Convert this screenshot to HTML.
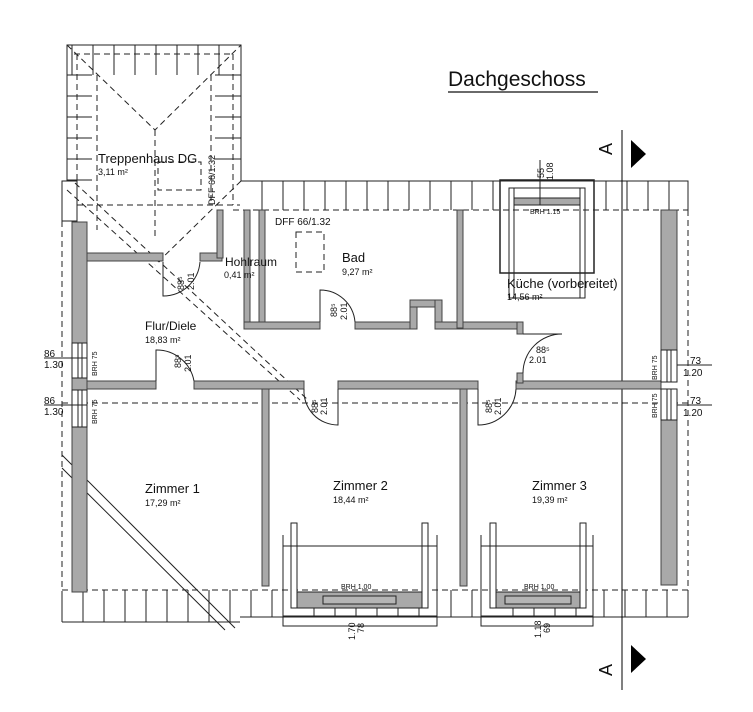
<!DOCTYPE html>
<html><head><meta charset="utf-8"><style>
html,body{margin:0;padding:0;background:#fff}
svg{display:block}
text{font-family:"Liberation Sans",sans-serif;fill:#111}
</style></head><body>
<svg width="753" height="712" viewBox="0 0 753 712" xmlns="http://www.w3.org/2000/svg">
<g stroke="#222" stroke-width="1" fill="none">
<!-- stair tower -->
<polyline points="67,181 67,45 241,45 241,181"/>
<path d="M72,75 V45 M93,75 V45 M114,75 V45 M135,75 V45 M156,75 V45 M177,75 V45 M198,75 V45 M219,75 V45"/>
<path d="M67,75 H92 M67,96 H92 M67,117 H92 M67,138 H92 M67,159 H92 M67,180 H92 M215,75 H241 M215,96 H241 M215,117 H241 M215,138 H241 M215,159 H241"/>
<g stroke-dasharray="6,4">
<path d="M74,54 H233 M77,54 V205 M233,54 V205 M97,75 V230 M211,75 V205 M77,205 H240"/>
<path d="M67,45 L155,130 L241,45 M155,130 V240 M241,181 L155,265"/>
<rect x="158" y="162" width="43" height="28"/>
<path d="M67,190 L300,400 M75,183 L308,400"/>
</g>
<rect x="62" y="181" width="15" height="40"/>
<!-- roof band top -->
<path d="M241,181 H688 V210"/>
<path d="M262,181V210 M283,181V210 M304,181V210 M325,181V210 M346,181V210 M367,181V210 M388,181V210 M409,181V210 M430,181V210 M451,181V210 M472,181V210 M493,181V210 M606,181V210 M627,181V210 M648,181V210 M669,181V210"/>
<g stroke-dasharray="6,4">
<path d="M233,210 H688 M62,221 V592 M688,210 V592 M62,590 H688 M62,403 H688"/>
<rect x="296" y="232" width="28" height="40"/>
</g>
<!-- bottom roof band -->
<path d="M62,622 H240 M240,617 H688 M62,592 V622"/>
<path d="M83,590V622 M104,590V622 M125,590V622 M146,590V622 M167,590V622 M188,590V622 M209,590V622 M230,590V622 M251,590V617 M272,590V617 M451,590V617 M472,590V617 M604,590V617 M625,590V617 M646,590V617 M667,590V617 M688,590V617"/>
<path d="M314,608V617 M335,608V617 M356,608V617 M377,608V617 M398,608V617 M419,608V617 M513,608V617 M534,608V617 M555,608V617 M576,608V617"/>
<path d="M62,455 L235,628 M62,468 L225,630"/>
<!-- section line -->
<path d="M622,130 V690" stroke="#000"/>
</g>
<!-- walls -->
<g fill="#a9a9a9" stroke="#444" stroke-width="1">
<rect x="72" y="222" width="15" height="121"/>
<rect x="72" y="427" width="15" height="165"/>
<rect x="661" y="210" width="16" height="140"/>
<rect x="661" y="420" width="16" height="165"/>
<rect x="87" y="381" width="69" height="8"/>
<rect x="72" y="378" width="15" height="12"/>
<rect x="194" y="381" width="110" height="8"/>
<rect x="338" y="381" width="140" height="8"/>
<rect x="516" y="381" width="145" height="8"/>
<rect x="262" y="389" width="7" height="197"/>
<rect x="460" y="389" width="7" height="197"/>
<rect x="87" y="253" width="76" height="8"/>
<rect x="200" y="253" width="22" height="8"/>
<rect x="217" y="210" width="6" height="48"/>
<rect x="244" y="210" width="6" height="118"/>
<rect x="259" y="210" width="6" height="113"/>
<rect x="244" y="322" width="76" height="7"/>
<rect x="355" y="322" width="58" height="7"/>
<rect x="410" y="300" width="7" height="29"/>
<rect x="410" y="300" width="32" height="7"/>
<rect x="435" y="300" width="7" height="29"/>
<rect x="435" y="322" width="88" height="7"/>
<rect x="457" y="210" width="6" height="118"/>
<rect x="517" y="322" width="6" height="12"/>
<rect x="517" y="373" width="6" height="10"/>
</g>
<!-- windows side -->
<g stroke="#222" fill="#fff">
<rect x="72" y="343" width="15" height="35"/><path d="M78,343V378 M82,343V378" />
<rect x="72" y="390" width="15" height="37"/><path d="M78,390V427 M82,390V427"/>
<rect x="661" y="350" width="16" height="32"/><path d="M667,350V382 M671,350V382"/>
<rect x="661" y="389" width="16" height="31"/><path d="M667,389V420 M671,389V420"/>
<path d="M44,358H87 M44,405H87 M677,365H712 M677,405H712" fill="none"/>
</g>
<!-- doors -->
<g stroke="#222" fill="none">
<path d="M163,262 V296 A37,37 0 0 0 200,262"/>
<path d="M320,322 V290 A35,35 0 0 1 355,322"/>
<path d="M523,334 H562 A39,39 0 0 0 523,373"/>
<path d="M156,381 V350 A38,38 0 0 1 194,381"/>
<path d="M338,389 V425 A34,34 0 0 1 304,389"/>
<path d="M478,389 V425 A38,38 0 0 0 516,389" />
</g>
<!-- kitchen window -->
<g stroke="#222" fill="none">
<rect x="500" y="180" width="94" height="93" stroke-width="1.5"/>
<rect x="509" y="188" width="76" height="110"/>
<path d="M514,188V298 M580,188V298"/>
<rect x="514" y="198" width="66" height="7" fill="#a9a9a9"/>
<path d="M540,160 V205"/>
</g>
<!-- dormers -->
<g stroke="#222" fill="none">
<rect x="291" y="523" width="6" height="85" fill="#fff"/>
<rect x="422" y="523" width="6" height="85" fill="#fff"/>
<path d="M283,535 V626 H437 V535 M283,546 H437 M283,616 H437"/>
<rect x="297" y="592" width="125" height="16" fill="#a9a9a9"/>
<rect x="323" y="596" width="73" height="8" fill="#b5b5b5"/>
<rect x="490" y="523" width="6" height="85" fill="#fff"/>
<rect x="580" y="523" width="6" height="85" fill="#fff"/>
<path d="M481,535 V626 H593 V535 M481,546 H593 M481,616 H593"/>
<rect x="496" y="592" width="84" height="16" fill="#a9a9a9"/>
<rect x="505" y="596" width="66" height="8" fill="#b5b5b5"/>
</g>
<!-- section marks -->
<polygon points="631,140 646,154 631,168" fill="#000"/>
<polygon points="631,645 646,659 631,673" fill="#000"/>
<text x="0" y="0" font-size="18" transform="translate(612,155) rotate(-90)">A</text>
<text x="0" y="0" font-size="18" transform="translate(612,676) rotate(-90)">A</text>
<!-- title -->
<text x="448" y="86" font-size="21">Dachgeschoss</text>
<path d="M448,92 H598" stroke="#111" stroke-width="1.2"/>
<!-- labels -->
<text x="98" y="163" font-size="13">Treppenhaus DG</text>
<text x="98" y="175" font-size="9">3,11 m²</text>
<text font-size="9" transform="translate(215,205) rotate(-90)">DFF 66/1.32</text>
<text x="275" y="225" font-size="10">DFF 66/1.32</text>
<text x="225" y="266" font-size="12">Hohlraum</text>
<text x="224" y="278" font-size="9">0,41 m²</text>
<text x="342" y="262" font-size="13">Bad</text>
<text x="342" y="275" font-size="9">9,27 m²</text>
<text x="507" y="288" font-size="13">Küche (vorbereitet)</text>
<text x="507" y="300" font-size="9">14,56 m²</text>
<text x="530" y="214" font-size="7">BRH 1.15</text>
<text x="145" y="330" font-size="12">Flur/Diele</text>
<text x="145" y="343" font-size="9">18,83 m²</text>
<text x="145" y="493" font-size="13">Zimmer 1</text>
<text x="145" y="506" font-size="9">17,29 m²</text>
<text x="333" y="490" font-size="13">Zimmer 2</text>
<text x="333" y="503" font-size="9">18,44 m²</text>
<text x="532" y="490" font-size="13">Zimmer 3</text>
<text x="532" y="503" font-size="9">19,39 m²</text>
<text x="341" y="589" font-size="7">BRH 1.00</text>
<text x="524" y="589" font-size="7">BRH 1.00</text>
<text x="44" y="357" font-size="10">86</text><text x="44" y="368" font-size="10">1.30</text>
<text x="44" y="404" font-size="10">86</text><text x="44" y="415" font-size="10">1.30</text>
<text x="690" y="364" font-size="10">73</text><text x="683" y="376" font-size="10">1.20</text>
<text x="690" y="404" font-size="10">73</text><text x="683" y="416" font-size="10">1.20</text>
<g font-size="7">
<text transform="translate(97,376) rotate(-90)">BRH 75</text>
<text transform="translate(97,424) rotate(-90)">BRH 75</text>
<text transform="translate(657,380) rotate(-90)">BRH 75</text>
<text transform="translate(657,418) rotate(-90)">BRH 75</text>
</g>
<g font-size="9">
<text transform="translate(184,290) rotate(-90)">88⁵</text><text transform="translate(194,290) rotate(-90)">2.01</text>
<text transform="translate(337,317) rotate(-90)">88⁵</text><text transform="translate(347,320) rotate(-90)">2.01</text>
<text x="536" y="353">88⁵</text><text x="529" y="363">2.01</text>
<text transform="translate(181,368) rotate(-90)">88⁵</text><text transform="translate(191,372) rotate(-90)">2.01</text>
<text transform="translate(318,413) rotate(-90)">88⁵</text><text transform="translate(327,415) rotate(-90)">2.01</text>
<text transform="translate(492,413) rotate(-90)">88⁵</text><text transform="translate(501,415) rotate(-90)">2.01</text>
<text transform="translate(544,178) rotate(-90)">55</text><text transform="translate(553,180) rotate(-90)">1.08</text>
<text transform="translate(355,640) rotate(-90)">1.70</text><text transform="translate(364,633) rotate(-90)">78</text>
<text transform="translate(541,638) rotate(-90)">1.18</text><text transform="translate(550,633) rotate(-90)">69</text>
</g>
</svg>
</body></html>
